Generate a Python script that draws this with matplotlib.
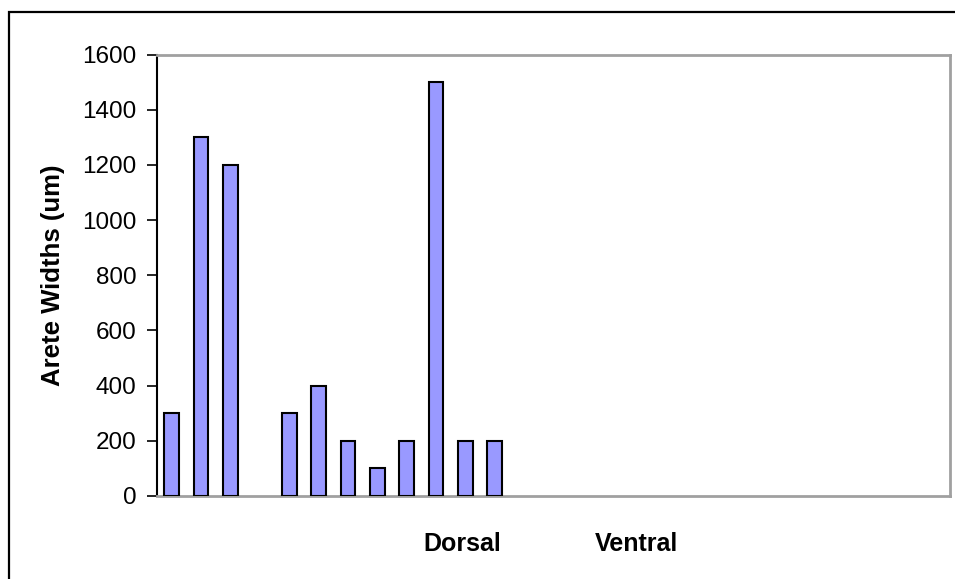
import matplotlib
matplotlib.use("Agg")
import matplotlib.pyplot as plt
import matplotlib.transforms as mtransforms
from matplotlib.patches import Rectangle
import numpy as np

# Arete widths per sample position (um); blank categories have no measurement
categories = [""] * 27
categories[10] = "Dorsal"
categories[16] = "Ventral"
widths = [300, 1300, 1200, np.nan, 300, 400, 200, 100, 200, 1500, 200, 200] + [np.nan] * 15
y_ticks = [0, 200, 400, 600, 800, 1000, 1200, 1400, 1600]
y_label = "Arete Widths (um)"

plt.rcParams["font.family"] = ["Liberation Sans", "DejaVu Sans"]

fig = plt.figure(figsize=(9.55, 5.79), dpi=100)
fig.patch.set_facecolor("white")

# outer chart frame
fig.patches.append(Rectangle((9 / 955, -0.2), 1.2, 1.2 - 12 / 579,
                             transform=fig.transFigure, fill=False,
                             edgecolor="black", linewidth=1.6, zorder=0))

ax = fig.add_axes([157 / 955, 1 - 496 / 579, (950 - 157) / 955, (496 - 54.5) / 579])

x = np.arange(len(categories))
ax.bar(x, widths, width=0.5, color="#9999FF", edgecolor="black", linewidth=1.5, zorder=3)

ax.set_xlim(-0.5, len(categories) - 0.5)
ax.set_ylim(0, 1600)
ax.set_yticks(y_ticks)
ax.set_yticklabels([str(v) for v in y_ticks], fontsize=17.5)
ax.tick_params(axis="y", direction="out", length=7, width=1.2, pad=8, colors="black")

ax.set_xticks(x)
ax.set_xticklabels(categories, fontsize=18, fontweight="bold")
ax.tick_params(axis="x", length=0, pad=26)
shifts = {"Dorsal": -3, "Ventral": -5.5}
for lbl in ax.get_xticklabels():
    dx = shifts.get(lbl.get_text(), 0)
    if dx:
        lbl.set_transform(lbl.get_transform() +
                          mtransforms.ScaledTranslation(dx / 100, 0, fig.dpi_scale_trans))

ax.set_ylabel(y_label, fontsize=18.5, fontweight="bold", labelpad=12)

for side in ("top", "right", "bottom"):
    ax.spines[side].set_color("#a0a0a0")
    ax.spines[side].set_linewidth(2)
ax.spines["left"].set_color("black")
ax.spines["left"].set_linewidth(1.5)

fig.savefig("out.png", dpi=100, facecolor="white")
